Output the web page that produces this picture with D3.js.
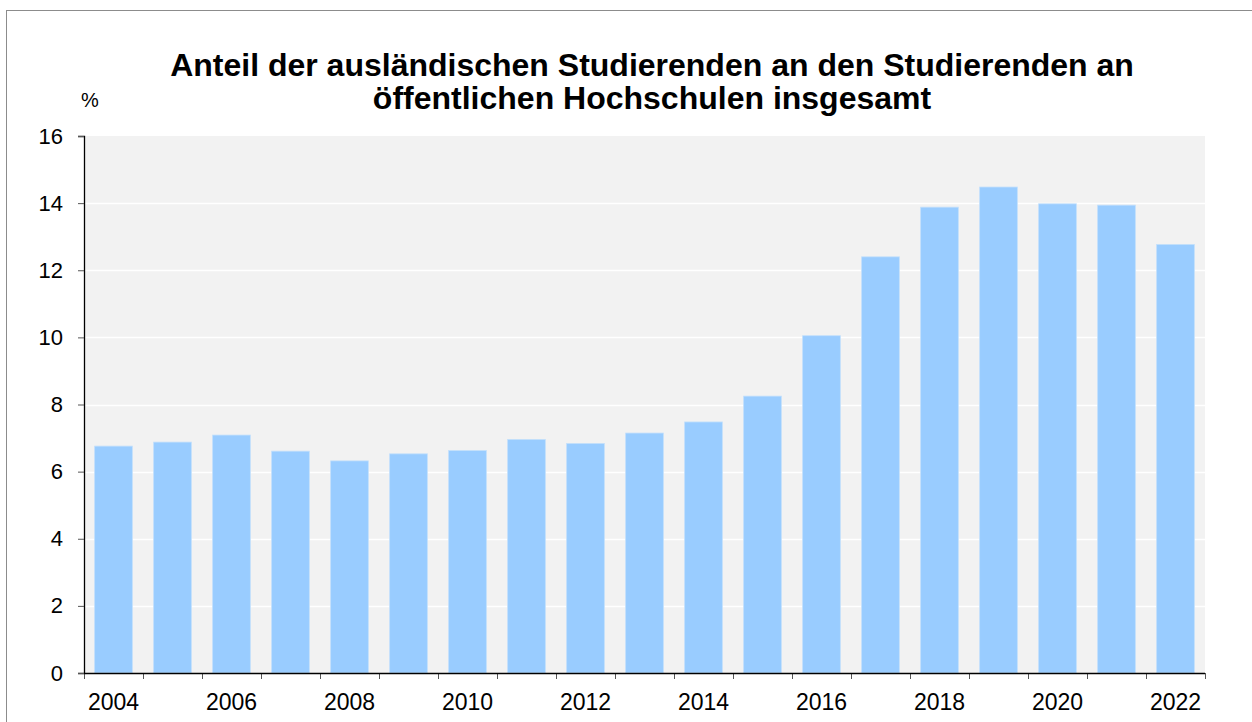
<!DOCTYPE html>
<html>
<head>
<meta charset="utf-8">
<script src="https://cdn.jsdelivr.net/npm/d3@7"></script>
<style>
  body { margin: 0; background: #fff; }
  svg { display: block; font-family: "Liberation Sans", Arial, sans-serif; }
</style>
</head>
<body>
<div id="chart"></div>
<script>
// Data

var years = ['2004', '2005', '2006', '2007', '2008', '2009', '2010', '2011', '2012', '2013',
             '2014', '2015', '2016', '2017', '2018', '2019', '2020', '2021', '2022'];
var shares = [6.76, 6.88, 7.09, 6.61, 6.32, 6.53, 6.63, 6.96, 6.84, 7.15,
              7.48, 8.25, 10.05, 12.40, 13.88, 14.48, 13.98, 13.94, 12.77];
var yTicks = [0, 2, 4, 6, 8, 10, 12, 14, 16];
var xLabels = ['2004', '2006', '2008', '2010', '2012', '2014', '2016', '2018', '2020', '2022'];
var titleLines = ['Anteil der ausländischen Studierenden an den Studierenden an',
                  'öffentlichen Hochschulen insgesamt'];

// Dimensions

var width = 1252;
var height = 722;
var plot = { left: 84, right: 1205, top: 136, bottom: 673 };

var svg = d3.select('#chart').append('svg')
    .attr('width', width)
    .attr('height', height);

// outer frame
svg.append('rect')
    .attr('x', 6.5)
    .attr('y', 10.5)
    .attr('width', width)
    .attr('height', height)
    .attr('fill', 'none')
    .attr('stroke', '#8c8c8c')
    .attr('stroke-width', 1);

// Scales

var x = d3.scaleBand()
    .domain(years)
    .range([plot.left, plot.right])
    .paddingInner(0.36)
    .paddingOuter(0.18);

var xEdges = d3.scaleBand()
    .domain(years)
    .range([plot.left, plot.right]);

var y = d3.scaleLinear()
    .domain([0, 16])
    .range([plot.bottom, plot.top]);

// Plot background + grid

svg.append('rect')
    .attr('x', plot.left)
    .attr('y', plot.top)
    .attr('width', plot.right - plot.left)
    .attr('height', plot.bottom - plot.top)
    .attr('fill', '#f2f2f2');

svg.append('g')
    .selectAll('line')
    .data(yTicks.filter(function(d) { return d > 0 && d < 16; }))
    .enter()
    .append('line')
    .attr('x1', plot.left)
    .attr('x2', plot.right)
    .attr('y1', function(d) { return Math.round(y(d)) + 0.5; })
    .attr('y2', function(d) { return Math.round(y(d)) + 0.5; })
    .attr('stroke', '#ffffff')
    .attr('stroke-width', 1.5);

// Bars

svg.append('g')
    .selectAll('rect')
    .data(years)
    .enter()
    .append('rect')
    .attr('x', function(d) { return x(d); })
    .attr('y', function(d, i) { return y(shares[i]); })
    .attr('width', x.bandwidth())
    .attr('height', function(d, i) { return y(0) - y(shares[i]); })
    .attr('fill', '#99ccff')
    .attr('stroke', '#c4e0fb')
    .attr('stroke-width', 0.8);

// Y axis

var yAxis = svg.append('g')
    .attr('transform', 'translate(' + plot.left + ',0)')
    .call(d3.axisLeft(y).tickValues(yTicks).tickSize(6).tickPadding(15).tickFormat(d3.format('d')));

yAxis.select('.domain').attr('stroke', '#000').attr('stroke-width', 1.3);
yAxis.selectAll('.tick line').attr('stroke', '#555');
yAxis.selectAll('.tick text')
    .attr('font-size', 22)
    .attr('fill', '#000')
    .attr('font-family', '"Liberation Sans", Arial, sans-serif');

// X axis: ticks at band edges, labels every other year

var edgeVals = years.map(function(d) { return xEdges(d); }).concat([plot.right]);

svg.append('g')
    .selectAll('line')
    .data(edgeVals)
    .enter()
    .append('line')
    .attr('x1', function(d) { return Math.round(d) + 0.5; })
    .attr('x2', function(d) { return Math.round(d) + 0.5; })
    .attr('y1', plot.bottom)
    .attr('y2', plot.bottom + 6)
    .attr('stroke', '#555');

svg.append('line')
    .attr('x1', plot.left)
    .attr('x2', plot.right)
    .attr('y1', plot.bottom + 0.5)
    .attr('y2', plot.bottom + 0.5)
    .attr('stroke', '#000')
    .attr('stroke-width', 1.3);

svg.append('g')
    .selectAll('text')
    .data(xLabels)
    .enter()
    .append('text')
    .attr('x', function(d) { return xEdges(d) + xEdges.bandwidth() / 2; })
    .attr('y', 710)
    .attr('text-anchor', 'middle')
    .attr('font-size', 23)
    .attr('fill', '#000')
    .text(function(d) { return d; });

// Unit label

svg.append('text')
    .attr('x', 81)
    .attr('y', 107)
    .attr('font-size', 20)
    .attr('fill', '#000')
    .text('%');

// Title

svg.append('g')
    .selectAll('text')
    .data(titleLines)
    .enter()
    .append('text')
    .attr('x', 652)
    .attr('y', function(d, i) { return 76 + i * 33; })
    .attr('text-anchor', 'middle')
    .attr('font-size', 32)
    .attr('font-weight', 'bold')
    .attr('fill', '#000')
    .text(function(d) { return d; });
</script>
</body>
</html>
